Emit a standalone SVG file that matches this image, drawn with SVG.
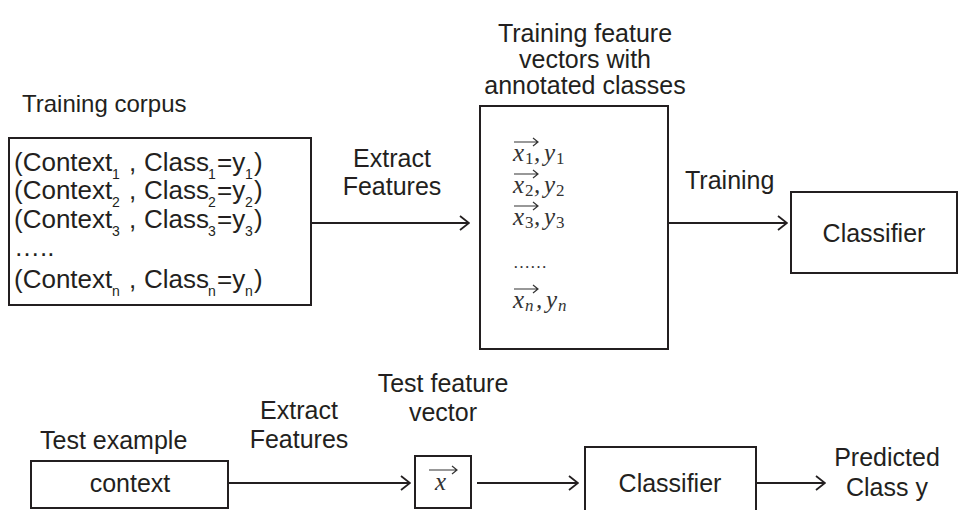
<svg xmlns="http://www.w3.org/2000/svg" width="959" height="510" viewBox="0 0 959 510">
<defs>
<marker id="ah" viewBox="0 0 12 16" refX="11" refY="8" markerWidth="12" markerHeight="16" markerUnits="userSpaceOnUse" orient="auto">
<path d="M2,1 L11,8 L2,15" fill="none" stroke="#231f20" stroke-width="1.8"/>
</marker>
</defs>
<style>
.box{fill:#fff;stroke:#231f20;stroke-width:2}
.t{font-family:"Liberation Sans",Arial,sans-serif;font-size:25px;fill:#231f20}
.c{text-anchor:middle}
.k{font-family:"Liberation Sans",Arial,sans-serif;font-size:26px;fill:#231f20}
.s{font-family:"Liberation Sans",Arial,sans-serif;font-size:14px;fill:#231f20}
.m{font-family:"Liberation Serif","DejaVu Serif",serif;font-style:italic;font-size:25px;fill:#333}
.ms{font-family:"Liberation Serif","DejaVu Serif",serif;font-size:17px;fill:#333}
.mi{font-family:"Liberation Serif","DejaVu Serif",serif;font-style:italic;font-size:17px;fill:#333}
.conn{stroke:#231f20;stroke-width:1.8;fill:none;marker-end:url(#ah)}
.vec{stroke:#333;stroke-width:1.2;fill:none}
</style>
<rect width="959" height="510" fill="#fff"/>
<g id="connectors">
<line class="conn" x1="311" y1="223" x2="469" y2="223"/>
<line class="conn" x1="669" y1="223" x2="787" y2="223"/>
<line class="conn" x1="228" y1="483" x2="410" y2="483"/>
<line class="conn" x1="477" y1="483" x2="578" y2="483"/>
<line class="conn" x1="756" y1="483" x2="825" y2="483"/>
</g>
<g id="labels">
<text class="t c" x="392" y="167">Extract</text>
<text class="t c" x="392" y="195">Features</text>
<text class="t" x="685" y="189">Training</text>
<text class="t c" x="299" y="419">Extract</text>
<text class="t c" x="299" y="448">Features</text>
<text class="t c" x="887" y="466">Predicted</text>
<text class="t c" x="887" y="496">Class y</text>
</g>
<g id="corpus">
<text class="t" x="22" y="112" style="font-size:24px">Training corpus</text>
<rect class="box" x="9" y="138" width="302" height="167"/>
<g>
<text class="k" x="14" y="171">(Context</text><text class="s" x="112" y="179">1</text><text class="k" x="129" y="171">,</text><text class="k" x="144" y="171">Class</text><text class="s" x="208" y="179">1</text><text class="k" x="217" y="171">=y</text><text class="s" x="245" y="179">1</text><text class="k" x="254" y="171">)</text>
<text class="k" x="14" y="199">(Context</text><text class="s" x="112" y="207">2</text><text class="k" x="129" y="199">,</text><text class="k" x="144" y="199">Class</text><text class="s" x="208" y="207">2</text><text class="k" x="217" y="199">=y</text><text class="s" x="245" y="207">2</text><text class="k" x="254" y="199">)</text>
<text class="k" x="14" y="228">(Context</text><text class="s" x="112" y="236">3</text><text class="k" x="129" y="228">,</text><text class="k" x="144" y="228">Class</text><text class="s" x="208" y="236">3</text><text class="k" x="217" y="228">=y</text><text class="s" x="245" y="236">3</text><text class="k" x="254" y="228">)</text>
<text class="k" x="14" y="256">…..</text>
<text class="k" x="14" y="288">(Context</text><text class="s" x="112" y="296">n</text><text class="k" x="129" y="288">,</text><text class="k" x="144" y="288">Class</text><text class="s" x="208" y="296">n</text><text class="k" x="217" y="288">=y</text><text class="s" x="245" y="296">n</text><text class="k" x="254" y="288">)</text>
</g>
</g>
<g id="features">
<text class="t c" x="585" y="42">Training feature</text>
<text class="t c" x="585" y="68">vectors with</text>
<text class="t c" x="585" y="94">annotated classes</text>
<rect class="box" x="480" y="106" width="188" height="243"/>
<g>
<path class="vec" d="M514,142 H538 M533,138 L538,142 L533,146"/>
<text class="m" x="513" y="161">x</text><text class="ms" x="525" y="164">1</text><text class="m" x="534" y="161">,</text><text class="m" x="544" y="161">y</text><text class="ms" x="556" y="164">1</text>
<path class="vec" d="M514,174 H538 M533,170 L538,174 L533,178"/>
<text class="m" x="513" y="193">x</text><text class="ms" x="525" y="196">2</text><text class="m" x="534" y="193">,</text><text class="m" x="544" y="193">y</text><text class="ms" x="556" y="196">2</text>
<path class="vec" d="M514,206 H538 M533,202 L538,206 L533,210"/>
<text class="m" x="513" y="225">x</text><text class="ms" x="525" y="228">3</text><text class="m" x="534" y="225">,</text><text class="m" x="544" y="225">y</text><text class="ms" x="556" y="228">3</text>
<text class="ms" x="513" y="268">……</text>
<path class="vec" d="M514,289 H538 M533,285 L538,289 L533,293"/>
<text class="m" x="513" y="308">x</text><text class="mi" x="525" y="311">n</text><text class="m" x="536" y="308">,</text><text class="m" x="546" y="308">y</text><text class="mi" x="558" y="311">n</text>
</g>
</g>
<g id="classifier-train">
<rect class="box" x="791" y="192" width="166" height="81"/>
<text class="t c" x="874" y="242">Classifier</text>
</g>
<g id="test-example">
<text class="t" x="40" y="449">Test example</text>
<rect class="box" x="31" y="461" width="197" height="47"/>
<text class="t c" x="130" y="492">context</text>
</g>
<g id="test-vector">
<text class="t c" x="443" y="392">Test feature</text>
<text class="t c" x="443" y="421">vector</text>
<rect class="box" x="415" y="456" width="56" height="52"/>
<path class="vec" d="M429,470 H457 M452,466 L457,470 L452,474"/>
<text class="m" x="435" y="490">x</text>
</g>
<g id="classifier-test">
<rect class="box" x="585" y="447" width="171" height="80"/>
<text class="t c" x="670" y="492">Classifier</text>
</g>
</svg>
